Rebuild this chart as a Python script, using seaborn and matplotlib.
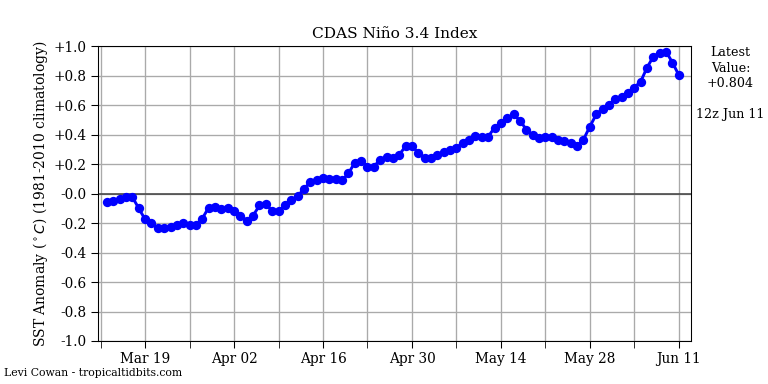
import numpy as np
import pandas as pd
import seaborn as sns
import matplotlib
matplotlib.use("Agg")
import matplotlib.pyplot as plt
import matplotlib.dates as mdates

# Daily Nino 3.4 SST anomaly, Mar 13 - Jun 11
start_date = "2023-03-13"
end_date = "2023-06-11"
anomaly = [
    -0.06, -0.05, -0.035, -0.025, -0.025, -0.10, -0.176, -0.20, -0.237, -0.237,
    -0.224, -0.21, -0.20, -0.21, -0.21, -0.17, -0.095, -0.088, -0.108,
    -0.095, -0.12, -0.149, -0.183, -0.149, -0.081, -0.068, -0.12, -0.12, -0.081,
    -0.047, -0.02, 0.034, 0.075, 0.09, 0.105, 0.10, 0.10, 0.09, 0.136,
    0.21, 0.222, 0.183, 0.183, 0.23, 0.25, 0.244, 0.264, 0.32, 0.32,
    0.278, 0.244, 0.244, 0.264, 0.285, 0.298, 0.31, 0.346, 0.366, 0.39,
    0.386, 0.386, 0.447, 0.475, 0.51, 0.536, 0.495, 0.434, 0.395, 0.38,
    0.386, 0.386, 0.366, 0.353, 0.346, 0.32, 0.366, 0.454, 0.536, 0.576, 0.603,
    0.644, 0.658, 0.685, 0.719, 0.759, 0.854, 0.929, 0.956, 0.963, 0.888, 0.804,
]
ytick_values = [-1.0, -0.8, -0.6, -0.4, -0.2, 0.0, 0.2, 0.4, 0.6, 0.8, 1.0]
ytick_labels = ["-1.0", "-0.8", "-0.6", "-0.4", "-0.2", "-0.0",
                "+0.2", "+0.4", "+0.6", "+0.8", "+1.0"]
latest_text = "Latest\nValue:\n+0.804\n\n12z Jun 11"

dates = pd.date_range(start_date, end_date, freq="D")
df = pd.DataFrame({"date": dates, "anom": anomaly})

plt.rcParams["font.family"] = ["DejaVu Serif"]

fig = plt.figure(figsize=(8, 4), dpi=96)
ax = fig.add_axes([0.1276, 0.112, 0.7721, 0.768])

# Grid and zero line
major_ticks = pd.date_range("2023-03-19", "2023-06-11", freq="14D")
minor_ticks = pd.date_range("2023-03-12", "2023-06-11", freq="7D")
ax.set_xticks(major_ticks)
ax.set_xticks(minor_ticks, minor=True)
ax.xaxis.set_major_formatter(mdates.DateFormatter("%b %d"))
ax.grid(True, which="both", axis="x", color="#aaaaaa", linewidth=1)
ax.grid(True, which="major", axis="y", color="#aaaaaa", linewidth=1)
ax.set_axisbelow(True)
ax.axhline(0, color="#444444", linewidth=1.2, zorder=1)

sns.lineplot(data=df, x="date", y="anom", ax=ax, color="blue",
             marker="o", markersize=7, markeredgewidth=0, linewidth=2.2)

ax.set_xlim(pd.Timestamp("2023-03-11 14:00"), pd.Timestamp("2023-06-12 22:00"))
ax.set_ylim(-1.0, 1.0)
ax.set_yticks(ytick_values)
ax.set_yticklabels(ytick_labels)
ax.tick_params(axis="both", which="both", length=5, labelsize=10.2)
ax.tick_params(axis="x", which="major", pad=3)

ax.set_xlabel("")
ax.set_ylabel(r"SST Anomaly ($^\circ C$) (1981-2010 climatology)", fontsize=10.4,
              labelpad=3)
ax.set_title("CDAS Niño 3.4 Index", fontsize=11.5)

fig.text(0.951, 0.88, latest_text, ha="center", va="top", fontsize=9.5,
         linespacing=1.25)
fig.text(0.005, 0.016, "Levi Cowan - tropicaltidbits.com", ha="left",
         va="bottom", fontsize=8.2)

fig.savefig("out.png", dpi=96)
